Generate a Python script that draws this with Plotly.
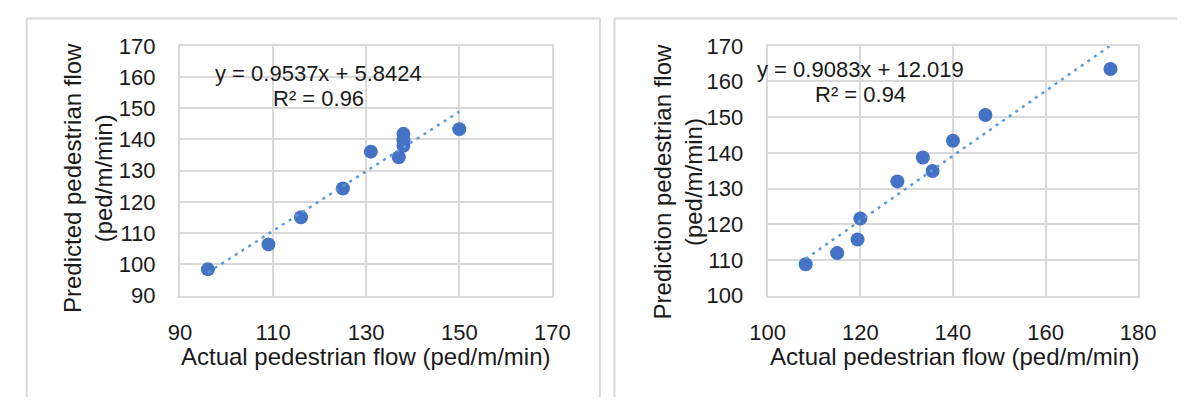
import plotly.graph_objects as go

W, H = 1195, 410

# Left panel: actual vs predicted pedestrian flow
left_actual = [96, 109, 116, 125, 131, 137, 138, 138, 138, 150]
left_pred = [98.4, 106.4, 115.1, 124.3, 136.1, 134.3, 141.8, 139.8, 138.0, 143.3]
left_slope, left_intercept, left_r2 = 0.9537, 5.8424, 0.96

# Right panel: actual vs prediction pedestrian flow
right_actual = [108.2, 115.0, 119.4, 120.0, 128.0, 133.5, 135.6, 140.0, 147.0, 174.0]
right_pred = [108.8, 111.9, 115.7, 121.6, 132.0, 138.7, 134.9, 143.4, 150.6, 163.5]
right_slope, right_intercept, right_r2 = 0.9083, 12.019, 0.94

left_ticks = [90, 110, 130, 150, 170]
left_yticks = [90, 100, 110, 120, 130, 140, 150, 160, 170]
right_ticks = [100, 120, 140, 160, 180]
right_yticks = [100, 110, 120, 130, 140, 150, 160, 170]

FONT = "Liberation Sans, Arial, sans-serif"
TXT = "#1a1a1a"
GRID = "#d9d9d9"
MARK = "#4472C4"
TREND = "#5B9BD5"


def px(x):
    return x / W


def py(y):
    return 1 - y / H


fig = go.Figure()


def add_panel(xs, ys, slope, intercept, xa, ya):
    fig.add_trace(go.Scatter(
        x=xs, y=ys, mode="markers", xaxis=xa, yaxis=ya,
        marker=dict(size=14, color=MARK, line=dict(width=0)),
        showlegend=False, hoverinfo="x+y"))
    x0, x1 = min(xs), max(xs)
    fig.add_trace(go.Scatter(
        x=[x0, x1], y=[slope * x0 + intercept, slope * x1 + intercept],
        mode="lines", xaxis=xa, yaxis=ya,
        line=dict(color=TREND, width=2.5, dash="3px,5px"),
        showlegend=False, hoverinfo="skip"))


add_panel(left_actual, left_pred, left_slope, left_intercept, "x", "y")
add_panel(right_actual, right_pred, right_slope, right_intercept, "x2", "y2")

y_dom = [py(302), py(36)]
axis_common = dict(
    showgrid=True, gridcolor=GRID, gridwidth=2,
    showline=True, linecolor=GRID, linewidth=2, mirror=True,
    zeroline=False, ticks="", fixedrange=True,
    tickfont=dict(family=FONT, size=22, color=TXT),
)

fig.update_layout(
    width=W, height=H,
    margin=dict(l=0, r=0, t=0, b=0),
    paper_bgcolor="white", plot_bgcolor="white",
    xaxis=dict(domain=[px(167), px(551)], range=[90, 170], tickvals=left_ticks,
               anchor="y", ticklabelstandoff=16, **axis_common),
    yaxis=dict(domain=y_dom, range=[90, 170], tickvals=left_yticks,
               anchor="x", ticklabelstandoff=18, **axis_common),
    xaxis2=dict(domain=[px(773), px(1155)], range=[100, 180], tickvals=right_ticks,
                anchor="y2", ticklabelstandoff=16, **axis_common),
    yaxis2=dict(domain=y_dom, range=[100, 170], tickvals=right_yticks,
                anchor="x2", ticklabelstandoff=18, **axis_common),
)

annotations = []


def note(text, x, y, size, angle=0):
    annotations.append(dict(
        text=text, x=px(x), y=py(y), xref="paper", yref="paper",
        xanchor="center", yanchor="middle", showarrow=False, textangle=angle,
        font=dict(family=FONT, size=size, color=TXT)))


# Axis titles
note("Actual pedestrian flow (ped/m/min)", 359, 367, 24)
note("Actual pedestrian flow (ped/m/min)", 966, 367, 24)
note("Predicted pedestrian flow<br>(ped/m/min)", 72, 177, 24, -90)
note("Prediction pedestrian flow<br>(ped/m/min)", 680, 181, 24, -90)

# Trendline equations
note(f"y = {left_slope}x + {left_intercept}", 310, 65, 22)
note(f"R² = {left_r2:.2f}", 310, 92, 22)
note(f"y = {right_slope}x + {right_intercept}", 869, 61, 22)
note(f"R² = {right_r2:.2f}", 869, 88, 22)

fig.update_layout(annotations=annotations)


# Chart-area frames: open at the bottom (and at the right for the second panel)
def frame_line(x0, y0, x1, y1):
    fig.add_shape(type="line", xref="paper", yref="paper",
                  x0=px(x0), y0=py(y0), x1=px(x1), y1=py(y1),
                  line=dict(color=GRID, width=2), layer="below")


frame_line(9, 7, 600, 7)
frame_line(9, 7, 9, 410)
frame_line(600, 7, 600, 410)
frame_line(615, 7, 1195, 7)
frame_line(615, 7, 615, 410)

fig.write_html("out.html")
